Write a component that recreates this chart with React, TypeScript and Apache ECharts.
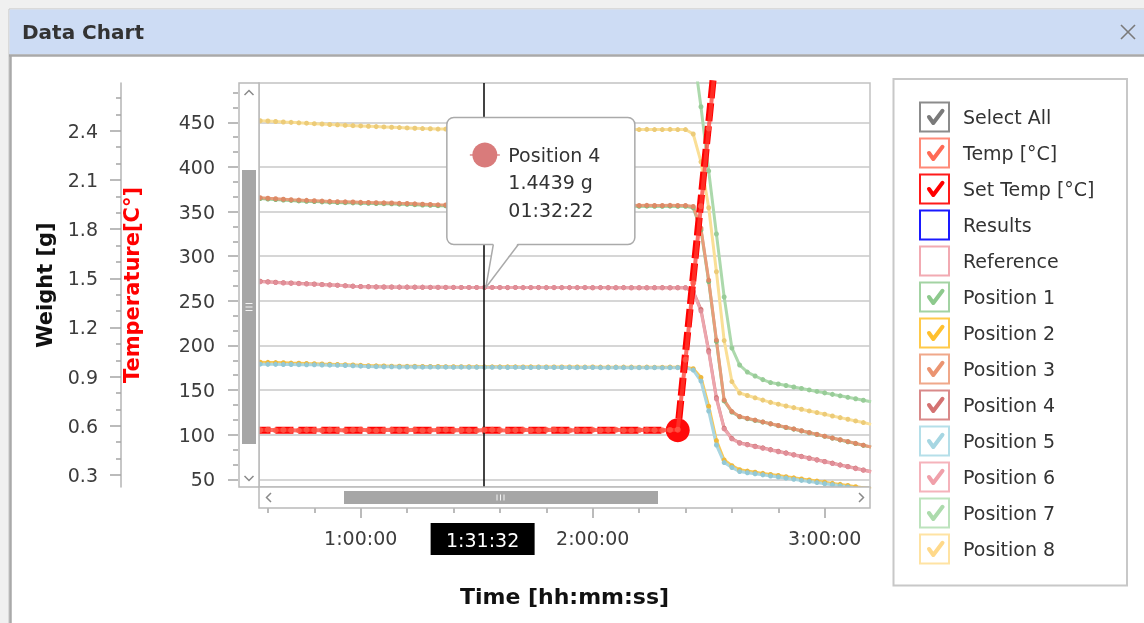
import React, { useEffect, useRef } from "react";
import * as echarts from "echarts";

const FONT = "DejaVu Sans";

// ---------- data ----------
// sample times, seconds since start
const TIMES_S = [
  1920, 2040, 2160, 2280, 2400, 2520, 2640, 2760, 2880, 3000,
  3120, 3240, 3360, 3480, 3600, 3720, 3840, 3960, 4080, 4200,
  4320, 4440, 4560, 4680, 4800, 4920, 5040, 5160, 5280, 5400,
  5520, 5640, 5760, 5880, 6000, 6120, 6240, 6360, 6480, 6600,
  6720, 6840, 6960, 7080, 7200, 7320, 7440, 7560, 7680, 7800,
  7920, 8040, 8160, 8280, 8400, 8520, 8640, 8760, 8880, 9000,
  9120, 9240, 9360, 9480, 9600, 9720, 9840, 9960, 10080, 10200,
  10320, 10440, 10560, 10680, 10800, 10920, 11040, 11160, 11280, 11400,
  11520,
];

// weights [g]
const POSITION_1 = [
  1.988, 1.986, 1.983, 1.980, 1.977, 1.975, 1.972, 1.970, 1.968, 1.966,
  1.964, 1.962, 1.961, 1.960, 1.958, 1.957, 1.956, 1.955, 1.954, 1.952,
  1.951, 1.949, 1.947, 1.945, 1.943, 1.942, 1.942, 1.941, 1.942, 1.941,
  1.941, 1.942, 1.941, 1.941, 1.940, 1.941, 1.941, 1.940, 1.941, 1.940,
  1.940, 1.941, 1.940, 1.940, 1.940, 1.939, 1.940, 1.940, 1.939, 1.940,
  1.939, 1.940, 1.939, 1.939, 1.940, 1.939, 1.939, 1.930, 1.795, 1.480,
  1.115, 0.752, 0.684, 0.655, 0.644, 0.633, 0.623, 0.612, 0.601, 0.590,
  0.580, 0.569, 0.558, 0.547, 0.536, 0.525, 0.514, 0.503, 0.492, 0.481,
  0.470,
];
const POSITION_2 = [
  0.989, 0.988, 0.987, 0.986, 0.985, 0.983, 0.982, 0.980, 0.979, 0.977,
  0.976, 0.974, 0.973, 0.971, 0.969, 0.967, 0.966, 0.965, 0.964, 0.964,
  0.963, 0.963, 0.962, 0.962, 0.962, 0.961, 0.961, 0.961, 0.961, 0.960,
  0.960, 0.960, 0.960, 0.960, 0.960, 0.959, 0.960, 0.959, 0.959, 0.959,
  0.959, 0.959, 0.959, 0.958, 0.959, 0.958, 0.958, 0.958, 0.958, 0.958,
  0.957, 0.958, 0.957, 0.957, 0.958, 0.957, 0.957, 0.948, 0.895, 0.720,
  0.510, 0.392, 0.357, 0.332, 0.324, 0.317, 0.310, 0.303, 0.297, 0.290,
  0.283, 0.276, 0.270, 0.263, 0.256, 0.249, 0.243, 0.236, 0.229, 0.222,
  0.216,
];
const POSITION_3 = [
  1.993, 1.991, 1.988, 1.985, 1.982, 1.979, 1.977, 1.975, 1.973, 1.971,
  1.969, 1.967, 1.966, 1.965, 1.963, 1.962, 1.961, 1.960, 1.959, 1.957,
  1.956, 1.954, 1.952, 1.950, 1.948, 1.947, 1.947, 1.946, 1.947, 1.946,
  1.946, 1.947, 1.946, 1.946, 1.945, 1.946, 1.946, 1.945, 1.946, 1.945,
  1.945, 1.946, 1.945, 1.945, 1.945, 1.944, 1.945, 1.945, 1.944, 1.945,
  1.944, 1.945, 1.944, 1.944, 1.945, 1.944, 1.944, 1.938, 1.806, 1.489,
  1.123, 0.757, 0.687, 0.657, 0.646, 0.635, 0.624, 0.613, 0.602, 0.591,
  0.581, 0.570, 0.559, 0.548, 0.537, 0.526, 0.515, 0.504, 0.493, 0.482,
  0.471,
];
const POSITION_4 = [
  1.484, 1.482, 1.479, 1.476, 1.473, 1.471, 1.469, 1.467, 1.465, 1.462,
  1.460, 1.458, 1.455, 1.452, 1.450, 1.449, 1.448, 1.447, 1.447, 1.446,
  1.446, 1.446, 1.445, 1.445, 1.445, 1.445, 1.444, 1.444, 1.444, 1.444,
  1.4439, 1.444, 1.444, 1.443, 1.444, 1.443, 1.443, 1.444, 1.443, 1.443,
  1.443, 1.443, 1.443, 1.443, 1.442, 1.443, 1.443, 1.442, 1.443, 1.442,
  1.442, 1.442, 1.442, 1.443, 1.442, 1.442, 1.442, 1.420, 1.310, 1.060,
  0.772, 0.586, 0.523, 0.497, 0.486, 0.476, 0.466, 0.455, 0.445, 0.435,
  0.424, 0.414, 0.404, 0.393, 0.383, 0.373, 0.362, 0.352, 0.342, 0.331,
  0.321,
];
const POSITION_5 = [
  0.977, 0.976, 0.975, 0.975, 0.974, 0.974, 0.973, 0.972, 0.972, 0.971,
  0.970, 0.969, 0.968, 0.966, 0.964, 0.962, 0.961, 0.960, 0.960, 0.959,
  0.959, 0.959, 0.958, 0.959, 0.958, 0.958, 0.957, 0.958, 0.957, 0.957,
  0.957, 0.957, 0.957, 0.956, 0.957, 0.956, 0.956, 0.957, 0.956, 0.956,
  0.956, 0.956, 0.955, 0.956, 0.956, 0.955, 0.955, 0.956, 0.955, 0.955,
  0.955, 0.955, 0.955, 0.954, 0.955, 0.955, 0.954, 0.940, 0.873, 0.690,
  0.483, 0.376, 0.346, 0.321, 0.314, 0.308, 0.301, 0.294, 0.288, 0.281,
  0.274, 0.267, 0.261, 0.254, 0.247, 0.241, 0.234, 0.227, 0.221, 0.214,
  0.207,
];
const POSITION_6 = [
  1.481, 1.479, 1.477, 1.474, 1.471, 1.469, 1.467, 1.465, 1.463, 1.461,
  1.459, 1.457, 1.454, 1.451, 1.449, 1.448, 1.447, 1.447, 1.446, 1.446,
  1.446, 1.445, 1.446, 1.445, 1.445, 1.444, 1.445, 1.444, 1.444, 1.444,
  1.444, 1.444, 1.443, 1.444, 1.444, 1.443, 1.444, 1.443, 1.443, 1.444,
  1.443, 1.443, 1.443, 1.444, 1.443, 1.443, 1.442, 1.443, 1.443, 1.442,
  1.443, 1.442, 1.443, 1.442, 1.442, 1.443, 1.442, 1.416, 1.300, 1.050,
  0.764, 0.581, 0.520, 0.494, 0.484, 0.473, 0.463, 0.453, 0.442, 0.432,
  0.422, 0.412, 0.401, 0.391, 0.381, 0.370, 0.360, 0.350, 0.339, 0.329,
  0.319,
];
const POSITION_7 = [
  2.952, 2.950, 2.947, 2.944, 2.941, 2.938, 2.936, 2.933, 2.931, 2.929,
  2.927, 2.925, 2.923, 2.921, 2.919, 2.918, 2.916, 2.915, 2.914, 2.913,
  2.912, 2.911, 2.910, 2.910, 2.909, 2.909, 2.908, 2.908, 2.908, 2.907,
  2.907, 2.907, 2.907, 2.906, 2.906, 2.906, 2.906, 2.906, 2.905, 2.905,
  2.905, 2.905, 2.905, 2.905, 2.904, 2.904, 2.904, 2.904, 2.904, 2.904,
  2.903, 2.903, 2.903, 2.903, 2.903, 2.903, 2.902, 2.895, 2.546, 2.155,
  1.770, 1.386, 1.075, 0.971, 0.928, 0.904, 0.882, 0.864, 0.855, 0.846,
  0.837, 0.828, 0.819, 0.810, 0.801, 0.792, 0.783, 0.774, 0.765, 0.756,
  0.747,
];
const POSITION_8 = [
  2.463, 2.461, 2.459, 2.456, 2.453, 2.451, 2.448, 2.446, 2.443, 2.441,
  2.438, 2.436, 2.433, 2.431, 2.429, 2.427, 2.425, 2.423, 2.421, 2.419,
  2.417, 2.415, 2.413, 2.412, 2.410, 2.410, 2.409, 2.410, 2.409, 2.409,
  2.408, 2.409, 2.408, 2.409, 2.409, 2.408, 2.409, 2.408, 2.408, 2.409,
  2.408, 2.408, 2.409, 2.408, 2.408, 2.407, 2.408, 2.408, 2.407, 2.408,
  2.407, 2.408, 2.407, 2.407, 2.408, 2.407, 2.407, 2.380, 2.210, 1.930,
  1.540, 1.120, 0.870, 0.800, 0.785, 0.771, 0.757, 0.743, 0.732, 0.721,
  0.711, 0.701, 0.691, 0.681, 0.671, 0.660, 0.650, 0.640, 0.630, 0.620,
  0.609,
];

// temperatures [°C]
const TEMP = [
  104.8, 105.2, 105.6, 104.9, 105.3, 105.0, 104.7, 105.4, 105.1, 104.9,
  105.5, 105.2, 104.8, 105.3, 105.6, 105.0, 104.7, 105.2, 105.4, 104.9,
  105.1, 105.5, 104.8, 105.0, 105.3, 105.6, 104.9, 105.2, 105.0, 104.7,
  105.3, 105.5, 105.1, 104.8, 105.2, 105.4, 105.0, 104.9, 105.3, 105.6,
  105.1, 104.8, 105.2, 105.0, 105.4, 104.9, 105.3, 105.5, 105.0, 104.8,
  105.2, 105.4, 105.1, 104.9, 105.3, 105.6, 184, 270, 356, 443,
  528, 590, 597, 599, 600, 600, 599, 600, 600, 600,
  599, 600, 600, 599, 600, 600, 600, 599, 600, 600,
  600,
];
const SET_TEMP = [
  105, 105, 105, 105, 105, 105, 105, 105, 105, 105,
  105, 105, 105, 105, 105, 105, 105, 105, 105, 105,
  105, 105, 105, 105, 105, 105, 105, 105, 105, 105,
  105, 105, 105, 105, 105, 105, 105, 105, 105, 105,
  105, 105, 105, 105, 105, 105, 105, 105, 105, 105,
  105, 105, 105, 105, 105, 105, 191, 277, 363, 449,
  535, 600, 600, 600, 600, 600, 600, 600, 600, 600,
  600, 600, 600, 600, 600, 600, 600, 600, 600, 600,
  600,
];
const SET_TEMP_MARKER_INDEX = 55;

// visible window of the axes
const TEMP_RANGE = [41.4, 494.0];
const WEIGHT_RANGE = [0.227, 2.691];
const TIME_RANGE_S = [2022, 11503];

// tick labels
const TEMP_TICKS = [50, 100, 150, 200, 250, 300, 350, 400, 450];
const WEIGHT_TICKS = [0.3, 0.6, 0.9, 1.2, 1.5, 1.8, 2.1, 2.4];
const TIME_TICKS_H = [1, 2, 3];

// crosshair + tooltip
const CROSSHAIR_S = 5492; // 1:31:32
const TIP_SERIES = "Position 4";
const TIP_TIME_S = 5542; // 01:32:22
const TIP_WEIGHT = 1.4439;

// legend entries
const LEGEND_NAMES = [
  "Select All", "Temp [°C]", "Set Temp [°C]", "Results", "Reference",
  "Position 1", "Position 2", "Position 3", "Position 4",
  "Position 5", "Position 6", "Position 7", "Position 8",
];
const LEGEND_CHECKED = [
  true, true, true, false, false,
  true, true, true, true, true, true, true, true,
];

// ---------- styles ----------
const LINE_COLOR: Record<string, string> = {
  "Temp [°C]": "#ff3b30",
  "Set Temp [°C]": "#ff0000",
  "Position 1": "#93cc93",
  "Position 2": "#f8c857",
  "Position 3": "#e89c7a",
  "Position 4": "#dc8a8a",
  "Position 5": "#a9d6e1",
  "Position 6": "#eca5ad",
  "Position 7": "#acd9ac",
  "Position 8": "#fadf96",
};
const DOT_COLOR: Record<string, string> = {
  "Temp [°C]": "#ff5a4a",
  "Position 1": "#7dbd7d",
  "Position 2": "#eeb83c",
  "Position 3": "#dd8a66",
  "Position 4": "#d07272",
  "Position 5": "#93c8d5",
  "Position 6": "#e08e98",
  "Position 7": "#98cc98",
  "Position 8": "#eccb78",
};
const BOX_COLOR: Record<string, [string, string]> = {
  "Select All": ["#8c8c8c", "#7a7a7a"],
  "Temp [°C]": ["#ff8a78", "#ff6a55"],
  "Set Temp [°C]": ["#ff1a1a", "#ff0000"],
  Results: ["#1a1aff", "#1a1aff"],
  Reference: ["#f2aab2", "#f2aab2"],
  "Position 1": ["#a3d3a3", "#8dc98d"],
  "Position 2": ["#ffca4a", "#ffc02e"],
  "Position 3": ["#f0a88a", "#eb9471"],
  "Position 4": ["#d98a8a", "#d47272"],
  "Position 5": ["#b5dfe9", "#a6d6e2"],
  "Position 6": ["#f5b3bb", "#f0a0aa"],
  "Position 7": ["#bde3bd", "#acdbac"],
  "Position 8": ["#ffe3a3", "#ffd98a"],
};

const WEIGHT_SERIES: [string, number[]][] = [
  ["Position 7", POSITION_7],
  ["Position 8", POSITION_8],
  ["Position 1", POSITION_1],
  ["Position 3", POSITION_3],
  ["Position 4", POSITION_4],
  ["Position 6", POSITION_6],
  ["Position 2", POSITION_2],
  ["Position 5", POSITION_5],
];

const TICK_COLOR = "#a4a4a4";
const LABEL_COLOR = "#3c3c3c";

function pad2(n: number) {
  return n < 10 ? "0" + n : String(n);
}
function hms(s: number, padHour: boolean) {
  const h = Math.floor(s / 3600);
  const m = Math.floor((s % 3600) / 60);
  const sec = Math.round(s % 60);
  return (padHour ? pad2(h) : String(h)) + ":" + pad2(m) + ":" + pad2(sec);
}
function isMultiple(v: number, step: number) {
  const r = Math.round(v / step);
  return Math.abs(v - r * step) < 1e-6;
}

function buildOption(): any {
  const toPairs = (vals: number[]) => TIMES_S.map((t, i) => [t / 3600, vals[i]]);
  const series: any[] = WEIGHT_SERIES.map(([name, vals]) => ({
    name,
    type: "line",
    xAxisIndex: 0,
    yAxisIndex: 1,
    data: toPairs(vals),
    symbol: "circle",
    symbolSize: 5,
    showSymbol: true,
    lineStyle: { color: LINE_COLOR[name], width: 3 },
    itemStyle: { color: DOT_COLOR[name], borderWidth: 0 },
    silent: true,
    z: 3,
  }));
  series.push({
    name: "Set Temp [°C]",
    type: "line",
    xAxisIndex: 0,
    yAxisIndex: 0,
    data: toPairs(SET_TEMP),
    symbol: "none",
    showSymbol: false,
    lineStyle: { color: LINE_COLOR["Set Temp [°C]"], width: 7, type: [18, 5] },
    silent: true,
    z: 4,
    markPoint: {
      silent: true,
      symbol: "circle",
      symbolSize: 24,
      itemStyle: { color: "#ff0a0a" },
      label: { show: false },
      data: [
        {
          coord: [TIMES_S[SET_TEMP_MARKER_INDEX] / 3600, SET_TEMP[SET_TEMP_MARKER_INDEX]],
        },
      ],
    },
    markLine: {
      silent: true,
      symbol: ["none", "none"],
      label: { show: false },
      lineStyle: { color: "#141414", width: 1.6, type: "solid" },
      data: [{ xAxis: CROSSHAIR_S / 3600 }],
    },
  });
  series.push({
    name: "Temp [°C]",
    type: "line",
    xAxisIndex: 0,
    yAxisIndex: 0,
    data: toPairs(TEMP),
    symbol: "circle",
    symbolSize: 6,
    showSymbol: true,
    lineStyle: { color: LINE_COLOR["Temp [°C]"], width: 4, opacity: 0.75 },
    itemStyle: { color: DOT_COLOR["Temp [°C]"], borderWidth: 0, opacity: 0.8 },
    silent: true,
    z: 5,
  });

  return {
    animation: false,
    textStyle: { fontFamily: FONT },
    grid: {
      left: 259,
      top: 83,
      width: 611,
      height: 404,
      show: true,
      borderColor: "#c2c2c2",
      borderWidth: 1.5,
      containLabel: false,
      outerBoundsMode: "none",
    },
    xAxis: {
      type: "value",
      position: "bottom",
      offset: 21,
      min: TIME_RANGE_S[0] / 3600,
      max: TIME_RANGE_S[1] / 3600,
      splitNumber: 3,
      name: "Time [hh:mm:ss]",
      nameLocation: "middle",
      nameGap: 77,
      nameTextStyle: { fontFamily: FONT, fontSize: 22, fontWeight: "bold", color: "#111" },
      axisLine: { show: false },
      axisTick: {
        show: true,
        length: 10,
        customValues: TIME_TICKS_H,
        lineStyle: { color: TICK_COLOR, width: 1.5 },
      },
      minorTick: { show: true, splitNumber: 5, length: 5, lineStyle: { color: TICK_COLOR, width: 1.5 } },
      axisLabel: {
        margin: 20,
        fontSize: 19,
        fontFamily: FONT,
        color: LABEL_COLOR,
        customValues: TIME_TICKS_H,
        formatter: (v: number) => (isMultiple(v, 1) ? hms(Math.round(v) * 3600, false) : ""),
      },
      splitLine: { show: false },
    },
    yAxis: [
      {
        type: "value",
        position: "left",
        offset: 21,
        min: TEMP_RANGE[0],
        max: TEMP_RANGE[1],
        splitNumber: 9,
        name: "Temperature[C°]",
        nameLocation: "middle",
        nameGap: 96,
        nameRotate: 90,
        nameTextStyle: { fontFamily: FONT, fontSize: 21, fontWeight: "bold", color: "#ff0000" },
        axisLine: { show: false },
        axisTick: {
          show: true,
          length: 10,
          customValues: TEMP_TICKS,
          lineStyle: { color: TICK_COLOR, width: 1.5 },
        },
        minorTick: { show: true, splitNumber: 3, length: 5, lineStyle: { color: TICK_COLOR, width: 1.5 } },
        axisLabel: {
          margin: 23,
          fontSize: 19,
          fontFamily: FONT,
          color: LABEL_COLOR,
          customValues: TEMP_TICKS,
          formatter: (v: number) => (isMultiple(v, 50) ? String(Math.round(v)) : ""),
        },
        splitLine: { show: true, lineStyle: { color: "#c8c8c8", width: 1.5 } },
      },
      {
        type: "value",
        position: "left",
        offset: 138,
        min: WEIGHT_RANGE[0],
        max: WEIGHT_RANGE[1],
        splitNumber: 8,
        name: "Weight [g]",
        nameLocation: "middle",
        nameGap: 66,
        nameRotate: 90,
        nameTextStyle: { fontFamily: FONT, fontSize: 21, fontWeight: "bold", color: "#111" },
        axisLine: { show: true, lineStyle: { color: "#b4b4b4", width: 1.5 } },
        axisTick: {
          show: true,
          length: 11,
          customValues: WEIGHT_TICKS,
          lineStyle: { color: TICK_COLOR, width: 1.5 },
        },
        minorTick: { show: true, splitNumber: 3, length: 5, lineStyle: { color: TICK_COLOR, width: 1.5 } },
        axisLabel: {
          margin: 23,
          fontSize: 19,
          fontFamily: FONT,
          color: LABEL_COLOR,
          customValues: WEIGHT_TICKS,
          formatter: (v: number) => (isMultiple(v, 0.3) ? (Math.round(v / 0.3) * 0.3).toFixed(1) : ""),
        },
        splitLine: { show: false },
      },
    ],
    series,
  };
}

function txt(text: string, x: number, y: number, o: any = {}) {
  return {
    type: "text",
    silent: true,
    z: o.z ?? 20,
    style: {
      text,
      x,
      y,
      fill: o.fill ?? "#333",
      fontSize: o.fontSize ?? 19,
      fontFamily: FONT,
      fontWeight: o.fontWeight ?? "normal",
      align: o.align ?? "left",
      textAlign: o.align ?? "left",
      verticalAlign: "middle",
      textVerticalAlign: "middle",
    },
  };
}

function buildGraphics(chart: any): any[] {
  const g: any[] = [];
  // window chrome
  g.push({ type: "rect", silent: true, z: -30, shape: { x: 0, y: 0, width: 1144, height: 623 }, style: { fill: "#f0f0f0" } });
  g.push({ type: "rect", silent: true, z: -29, shape: { x: 9, y: 9, width: 1145, height: 620 }, style: { fill: "#ffffff", stroke: "#c4c4c4", lineWidth: 1 } });
  g.push({ type: "rect", silent: true, z: -28, shape: { x: 9.5, y: 9.5, width: 1140, height: 45 }, style: { fill: "#cddcf4" } });
  g.push({ type: "line", silent: true, z: -27, shape: { x1: 9, y1: 55.5, x2: 1144, y2: 55.5 }, style: { stroke: "#a9a9a9", lineWidth: 2.5 } });
  g.push({ type: "line", silent: true, z: -27, shape: { x1: 10.5, y1: 55, x2: 10.5, y2: 623 }, style: { stroke: "#a9a9a9", lineWidth: 2.5 } });
  g.push(txt("Data Chart", 22, 32, { fontSize: 20, fontWeight: "bold", fill: "#333" }));
  g.push({ type: "line", silent: true, z: 20, shape: { x1: 1121, y1: 25, x2: 1135, y2: 39 }, style: { stroke: "#7a7a7a", lineWidth: 1.6 } });
  g.push({ type: "line", silent: true, z: 20, shape: { x1: 1135, y1: 25, x2: 1121, y2: 39 }, style: { stroke: "#7a7a7a", lineWidth: 1.6 } });

  // vertical scrollbar (drawn over the series so clipped line ends stay hidden)
  const sbStroke = "#b9b9b9";
  const thumb = "#a6a6a6";
  g.push({ type: "rect", silent: true, z: 10, shape: { x: 239, y: 83, width: 20, height: 404 }, style: { fill: "#ffffff", stroke: sbStroke, lineWidth: 1.5 } });
  g.push({ type: "rect", silent: true, z: 11, shape: { x: 242, y: 170, width: 14, height: 274 }, style: { fill: thumb } });
  [303.5, 307, 310.5].forEach((y) =>
    g.push({ type: "line", silent: true, z: 12, shape: { x1: 245.5, y1: y, x2: 252.5, y2: y }, style: { stroke: "#f4f4f4", lineWidth: 1 } })
  );
  g.push({ type: "polyline", silent: true, z: 12, shape: { points: [[244.5, 95], [249, 90.5], [253.5, 95]] }, style: { stroke: "#8a8a8a", lineWidth: 1.5, fill: "none" } });
  g.push({ type: "polyline", silent: true, z: 12, shape: { points: [[244.5, 476], [249, 480.5], [253.5, 476]] }, style: { stroke: "#8a8a8a", lineWidth: 1.5, fill: "none" } });

  // horizontal scrollbar
  g.push({ type: "rect", silent: true, z: 10, shape: { x: 259, y: 487, width: 611, height: 21 }, style: { fill: "#ffffff", stroke: sbStroke, lineWidth: 1.5 } });
  g.push({ type: "rect", silent: true, z: 11, shape: { x: 344, y: 491, width: 314, height: 13 }, style: { fill: thumb } });
  [497, 500.5, 504].forEach((x) =>
    g.push({ type: "line", silent: true, z: 12, shape: { x1: x, y1: 494.5, x2: x, y2: 500.5 }, style: { stroke: "#f4f4f4", lineWidth: 1 } })
  );
  g.push({ type: "polyline", silent: true, z: 12, shape: { points: [[271, 493], [266.5, 497.5], [271, 502]] }, style: { stroke: "#8a8a8a", lineWidth: 1.5, fill: "none" } });
  g.push({ type: "polyline", silent: true, z: 12, shape: { points: [[859, 493], [863.5, 497.5], [859, 502]] }, style: { stroke: "#8a8a8a", lineWidth: 1.5, fill: "none" } });

  // legend panel
  g.push({ type: "rect", silent: true, z: 1, shape: { x: 893.5, y: 79, width: 233.5, height: 506.5 }, style: { fill: "none", stroke: "#c8c8c8", lineWidth: 2 } });
  LEGEND_NAMES.forEach((name, i) => {
    const cy = 117 + i * 36;
    const x0 = 920;
    const y0 = cy - 14.5;
    const [bc, cc] = BOX_COLOR[name];
    g.push({ type: "rect", silent: true, z: 5, shape: { x: x0, y: y0, width: 29, height: 29 }, style: { fill: "#ffffff", stroke: bc, lineWidth: 2 } });
    if (LEGEND_CHECKED[i]) {
      g.push({
        type: "polyline",
        silent: true,
        z: 6,
        shape: { points: [[x0 + 9, y0 + 14.5], [x0 + 13.3, y0 + 20.5], [x0 + 22.5, y0 + 8.3]] },
        style: { stroke: cc, lineWidth: 4, lineCap: "round", lineJoin: "round", fill: "none" },
      });
    }
    g.push(txt(name, 963, cy, { fill: "#333" }));
  });

  // crosshair label under the time axis
  const cx = chart.convertToPixel({ xAxisIndex: 0 }, CROSSHAIR_S / 3600);
  g.push({ type: "rect", silent: true, z: 30, shape: { x: cx - 52, y: 523, width: 104, height: 32 }, style: { fill: "#000000" } });
  g.push(txt(hms(CROSSHAIR_S, false), cx, 539.5, { fill: "#ffffff", align: "center", z: 31 }));

  // tooltip bubble anchored at the data point
  const p = chart.convertToPixel({ xAxisIndex: 0, yAxisIndex: 1 }, [TIP_TIME_S / 3600, TIP_WEIGHT]);
  const px = p[0];
  const py = p[1];
  const bx = px - 39;
  const by = py - 170;
  const bw = 188;
  const bh = 127;
  const bottom = by + bh;
  g.push({ type: "rect", silent: true, z: 40, shape: { x: bx, y: by, width: bw, height: bh, r: 7 }, style: { fill: "#ffffff", stroke: "#aaaaaa", lineWidth: 1.5 } });
  g.push({ type: "polygon", silent: true, z: 41, shape: { points: [[px + 7.5, bottom - 2], [px + 32.5, bottom - 2], [px, py]] }, style: { fill: "#ffffff" } });
  g.push({ type: "polyline", silent: true, z: 42, shape: { points: [[px + 7.5, bottom], [px, py], [px + 32.5, bottom]] }, style: { stroke: "#aaaaaa", lineWidth: 1.5, fill: "none" } });
  const tipColor = LINE_COLOR[TIP_SERIES];
  g.push({ type: "line", silent: true, z: 43, shape: { x1: px - 16, y1: py - 132.5, x2: px + 14, y2: py - 132.5 }, style: { stroke: tipColor, lineWidth: 1.5 } });
  g.push({ type: "circle", silent: true, z: 44, shape: { cx: px - 1, cy: py - 132.5, r: 12.5 }, style: { fill: "#d97b7b" } });
  g.push(txt(TIP_SERIES, px + 22.5, py - 132.5, { z: 45 }));
  g.push(txt(TIP_WEIGHT.toFixed(4) + " g", px + 22.5, py - 105, { z: 45 }));
  g.push(txt(hms(TIP_TIME_S, true), px + 22.5, py - 77.5, { z: 45 }));
  return g;
}

export default function App() {
  const ref = useRef<HTMLDivElement>(null);
  useEffect(() => {
    if (!ref.current) return;
    const chart = echarts.init(ref.current, undefined, { renderer: "svg" });
    chart.setOption(buildOption());
    chart.setOption({ graphic: buildGraphics(chart) });
    return () => {
      chart.dispose();
    };
  }, []);
  return (
    <div
      ref={ref}
      style={{ position: "fixed", left: 0, top: 0, width: 1144, height: 623 }}
    />
  );
}
